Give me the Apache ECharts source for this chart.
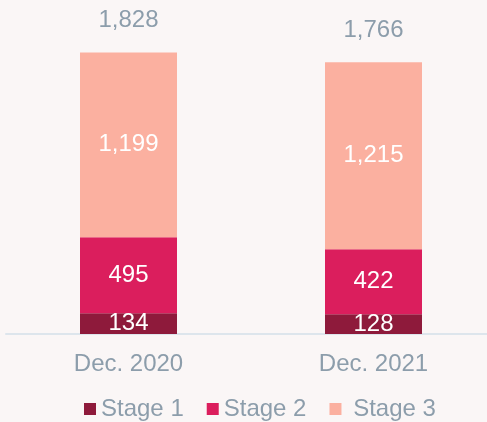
<!DOCTYPE html>
<html>
<head>
<meta charset="utf-8">
<script src="https://cdn.jsdelivr.net/npm/echarts@6/dist/echarts.min.js"></script>
<style>
  html, body { margin: 0; padding: 0; background: #faf6f6; }
  #chart { width: 487px; height: 422px; }
</style>
</head>
<body>
<div id="chart"></div>
<script>
// categories and values
const categories = ['Dec. 2020', 'Dec. 2021'];
const stage1 = [134, 128];
const stage2 = [495, 422];
const stage3 = [1199, 1215];
const totals = [1828, 1766];

const fmt = v => Number(v).toLocaleString('en-US');
const textGray = '#8c9dab';
const font = '"Liberation Sans", Arial, sans-serif';
const fontSize = 24;

const chart = echarts.init(document.getElementById('chart'));

function stageSeries(name, data, color) {
  return {
    name: name,
    type: 'bar',
    stack: 'total',
    barWidth: 97,
    itemStyle: { color: color },
    label: {
      show: true,
      position: 'inside',
      color: '#ffffff',
      fontSize: fontSize,
      fontFamily: font,
      formatter: p => fmt(p.value)
    },
    data: data
  };
}

chart.setOption({
  backgroundColor: '#faf6f6',
  animation: false,
  grid: {
    left: 6,
    width: 490,
    top: 26,
    bottom: 88,
    outerBoundsMode: 'none'
  },
  legend: {
    left: 79,
    top: 392,
    icon: 'rect',
    itemWidth: 12,
    itemHeight: 12,
    itemGap: 23,
    textStyle: {
      color: textGray,
      fontSize: fontSize,
      fontFamily: font
    },
    formatter: name => (name === 'Stage 3' ? ' ' + name : name),
    data: ['Stage 1', 'Stage 2', 'Stage 3']
  },
  xAxis: {
    type: 'category',
    data: categories,
    axisLine: { lineStyle: { color: '#dde5ec', width: 2 } },
    axisTick: { show: false },
    axisLabel: {
      color: textGray,
      fontSize: fontSize,
      fontFamily: font,
      margin: 18
    }
  },
  yAxis: {
    type: 'value',
    min: 0,
    max: 2000,
    show: false,
    splitLine: { show: false }
  },
  series: [
    stageSeries('Stage 1', stage1, '#8e1a3b'),
    stageSeries('Stage 2', stage2, '#db1e5d'),
    stageSeries('Stage 3', stage3, '#fbb0a0'),
    {
      // zero-height bar on top of the stack, only carries the total label
      name: 'Total',
      type: 'bar',
      stack: 'total',
      barWidth: 97,
      itemStyle: { color: 'transparent' },
      label: {
        show: true,
        position: 'top',
        distance: 20,
        color: textGray,
        fontSize: fontSize,
        fontFamily: font,
        formatter: p => fmt(totals[p.dataIndex])
      },
      data: categories.map(() => 0)
    }
  ]
});
</script>
</body>
</html>
